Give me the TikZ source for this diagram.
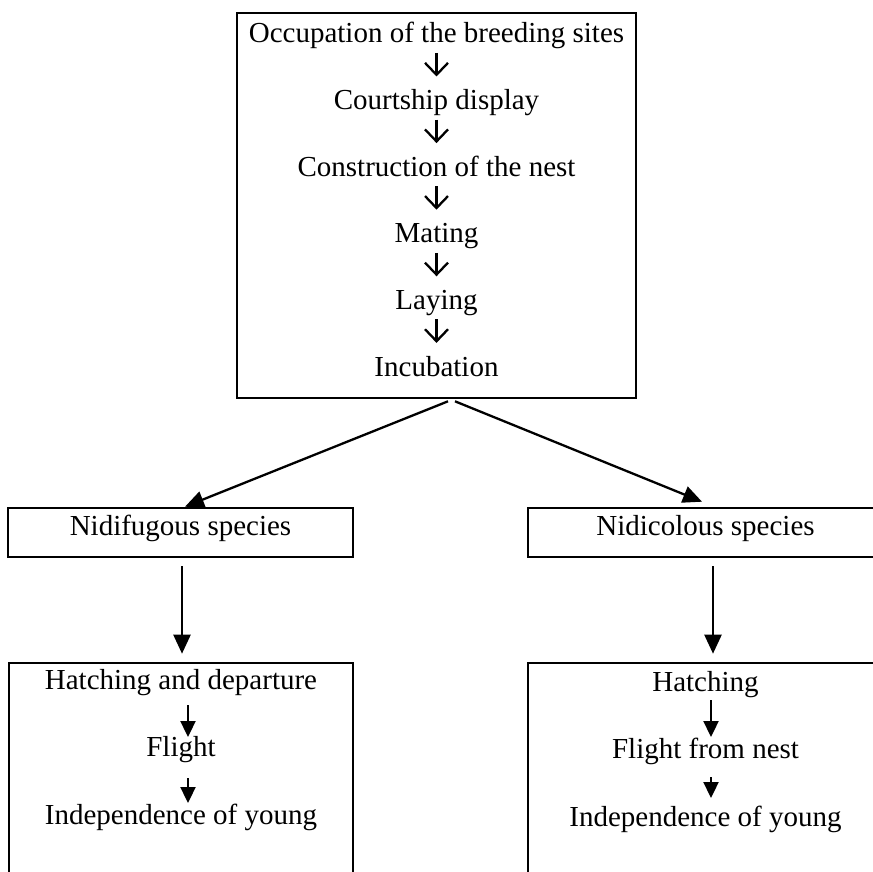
\documentclass[tikz,border=0pt]{standalone}
\usepackage{fontspec}
\setmainfont{Liberation Serif}
\usetikzlibrary{arrows.meta,calc}
\begin{document}
\begin{tikzpicture}[x=1pt,y=-1pt,
  box/.style={draw,line width=2.6pt,inner sep=0pt},
  lbl/.style={font=\fontsize{29}{34}\selectfont,inner sep=0pt,anchor=base},
  glyph/.style={line width=2.3pt,-{Straight Barb[length=12pt,width=23pt]}},
  big/.style={line width=2.3pt,-{Triangle[length=19pt,width=17pt]}},
  small/.style={line width=2.3pt,-{Triangle[length=16pt,width=15pt]}}]
\useasboundingbox (0,0) rectangle (872,872);
% boxes
\node[box,minimum width=399pt,minimum height=385pt] (top) at (436.5,205.5) {};
\node[box,minimum width=345pt,minimum height=49pt] (nf) at (180.5,532.5) {};
\node[box,minimum width=355pt,minimum height=49pt] (nc) at (705.5,532.5) {};
\node[box,minimum width=344pt,minimum height=222pt] (bl) at (181,774) {};
\node[box,minimum width=355pt,minimum height=222pt] (br) at (705.5,774) {};
% top texts
\node[lbl] (t1) at (436.5,43) {Occupation of the breeding sites};
\node[lbl] (t2) at (436.5,109.6) {Courtship display};
\node[lbl] (t3) at (436.5,176.2) {Construction of the nest};
\node[lbl] (t4) at (436.5,242.8) {Mating};
\node[lbl] (t5) at (436.5,309.4) {Laying};
\node[lbl] (t6) at (436.5,376) {Incubation};
\foreach \a in {t1,t2,t3,t4,t5}
  \draw[glyph] ($(\a.base)+(0,10)$) -- ($(\a.base)+(0,33.5)$);
% middle texts
\node[lbl] (nft) at (180.5,535) {Nidifugous species};
\node[lbl] (nct) at (705.5,535) {Nidicolous species};
% connectors
\draw[big] ($(top.south)+(11.5,2)$) -- ($(nf.north)+(4.5,0)$);
\draw[big] ($(top.south)+(18.5,2)$) -- ($(nc.north)+(-3.5,-5)$);
\draw[big] ($(nf.south)+(1.5,8)$) -- ($(bl.north)+(1,-8)$);
\draw[big] ($(nc.south)+(7.5,8)$) -- ($(br.north)+(7.5,-8)$);
% bottom left
\node[lbl] (l1) at (181,689) {Hatching and departure};
\node[lbl] (l2) at (181,756) {Flight};
\node[lbl] (l3) at (181,824) {Independence of young};
\draw[small] ($(l1.base)+(7,16)$) -- ($(l1.base)+(7,48)$);
\draw[small] ($(l2.base)+(7,22)$) -- ($(l2.base)+(7,47)$);
% bottom right
\node[lbl] (r1) at (705.5,691) {Hatching};
\node[lbl] (r2) at (705.5,758) {Flight from nest};
\node[lbl] (r3) at (705.5,826) {Independence of young};
\draw[small] ($(r1.base)+(5.5,9)$) -- ($(r1.base)+(5.5,46)$);
\draw[small] ($(r2.base)+(5.5,19)$) -- ($(r2.base)+(5.5,40)$);
\end{tikzpicture}
\end{document}
